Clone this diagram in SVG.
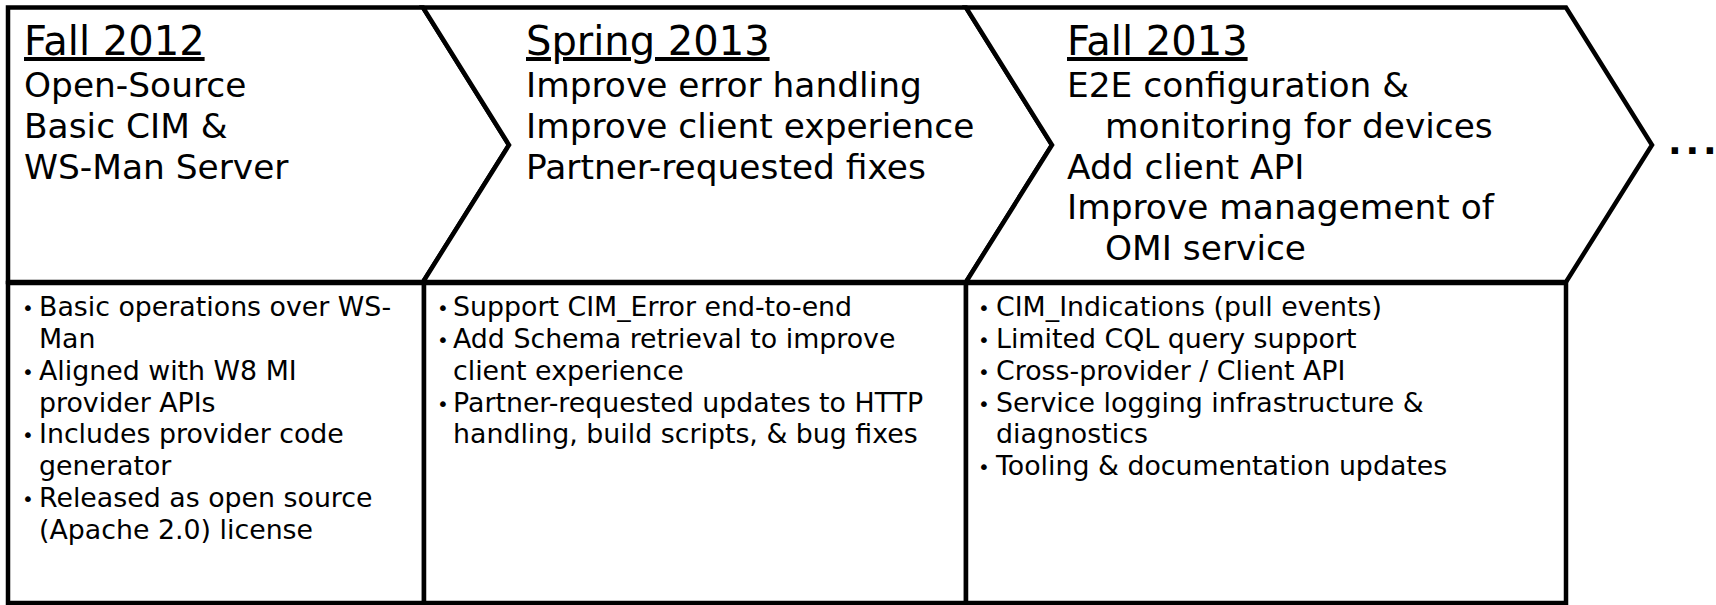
<svg xmlns="http://www.w3.org/2000/svg" width="1716" height="605" viewBox="0 0 1716 605">
<style>
.shape{fill:#fff;stroke:#000;stroke-width:4.5;stroke-linejoin:miter}
.box{fill:#fff;stroke:#000;stroke-width:4.5}
text{font-family:"DejaVu Sans","Verdana",sans-serif;fill:#000}
.title{font-size:40px;text-decoration:underline}
.head{font-size:34.4px}
.item{font-size:26.8px}
.bul{font-size:20px;text-anchor:middle}
.dots{font-size:36px;font-weight:bold}
</style>
<rect width="1716" height="605" fill="#fff"/>
<g id="phase-fall-2012">
<path class="shape" d="M8,7.5 H423 L509,145 L423,282 H8 Z"/>
<text class="title" x="24" y="55">Fall 2012</text>
<text class="head" x="24" y="97">Open-Source</text>
<text class="head" x="24" y="138">Basic CIM &amp;</text>
<text class="head" x="24" y="179">WS-Man Server</text>
</g>
<g id="phase-spring-2013">
<path class="shape" d="M423,7.5 H966 L1052,145 L966,282 H423 L509,145 Z"/>
<text class="title" x="526" y="55">Spring 2013</text>
<text class="head" x="526" y="97">Improve error handling</text>
<text class="head" x="526" y="138">Improve client experience</text>
<text class="head" x="526" y="179">Partner-requested fixes</text>
</g>
<g id="phase-fall-2013">
<path class="shape" d="M966,7.5 H1566 L1652,145 L1566,282 H966 L1052,145 Z"/>
<text class="title" x="1067" y="55">Fall 2013</text>
<text class="head" x="1067" y="97">E2E configuration &amp;</text>
<text class="head" x="1105" y="138">monitoring for devices</text>
<text class="head" x="1067" y="179">Add client API</text>
<text class="head" x="1067" y="219">Improve management of</text>
<text class="head" x="1105" y="260">OMI service</text>
</g>
<g id="more">
<text class="dots" x="1668 1685.5 1703" y="154">...</text>
</g>
<g id="details-fall-2012">
<rect class="box" x="8" y="283" width="416" height="320"/>
<text class="bul" x="28" y="315">•</text>
<text class="item" x="39" y="316">Basic operations over WS-</text>
<text class="item" x="39" y="348">Man</text>
<text class="bul" x="28" y="379">•</text>
<text class="item" x="39" y="380">Aligned with W8 MI</text>
<text class="item" x="39" y="412">provider APIs</text>
<text class="bul" x="28" y="442">•</text>
<text class="item" x="39" y="443">Includes provider code</text>
<text class="item" x="39" y="475">generator</text>
<text class="bul" x="28" y="506">•</text>
<text class="item" x="39" y="507">Released as open source</text>
<text class="item" x="39" y="539">(Apache 2.0) license</text>
</g>
<g id="details-spring-2013">
<rect class="box" x="424" y="283" width="542" height="320"/>
<text class="bul" x="443" y="315">•</text>
<text class="item" x="453" y="316">Support CIM_Error end-to-end</text>
<text class="bul" x="443" y="347">•</text>
<text class="item" x="453" y="348">Add Schema retrieval to improve</text>
<text class="item" x="453" y="380">client experience</text>
<text class="bul" x="443" y="411">•</text>
<text class="item" x="453" y="412">Partner-requested updates to HTTP</text>
<text class="item" x="453" y="443">handling, build scripts, &amp; bug fixes</text>
</g>
<g id="details-fall-2013">
<rect class="box" x="966" y="283" width="600" height="320"/>
<text class="bul" x="984" y="315">•</text>
<text class="item" x="996" y="316">CIM_Indications (pull events)</text>
<text class="bul" x="984" y="347">•</text>
<text class="item" x="996" y="348">Limited CQL query support</text>
<text class="bul" x="984" y="379">•</text>
<text class="item" x="996" y="380">Cross-provider / Client API</text>
<text class="bul" x="984" y="411">•</text>
<text class="item" x="996" y="412">Service logging infrastructure &amp;</text>
<text class="item" x="996" y="443">diagnostics</text>
<text class="bul" x="984" y="474">•</text>
<text class="item" x="996" y="475">Tooling &amp; documentation updates</text>
</g>
<g id="connectors"></g>
</svg>
